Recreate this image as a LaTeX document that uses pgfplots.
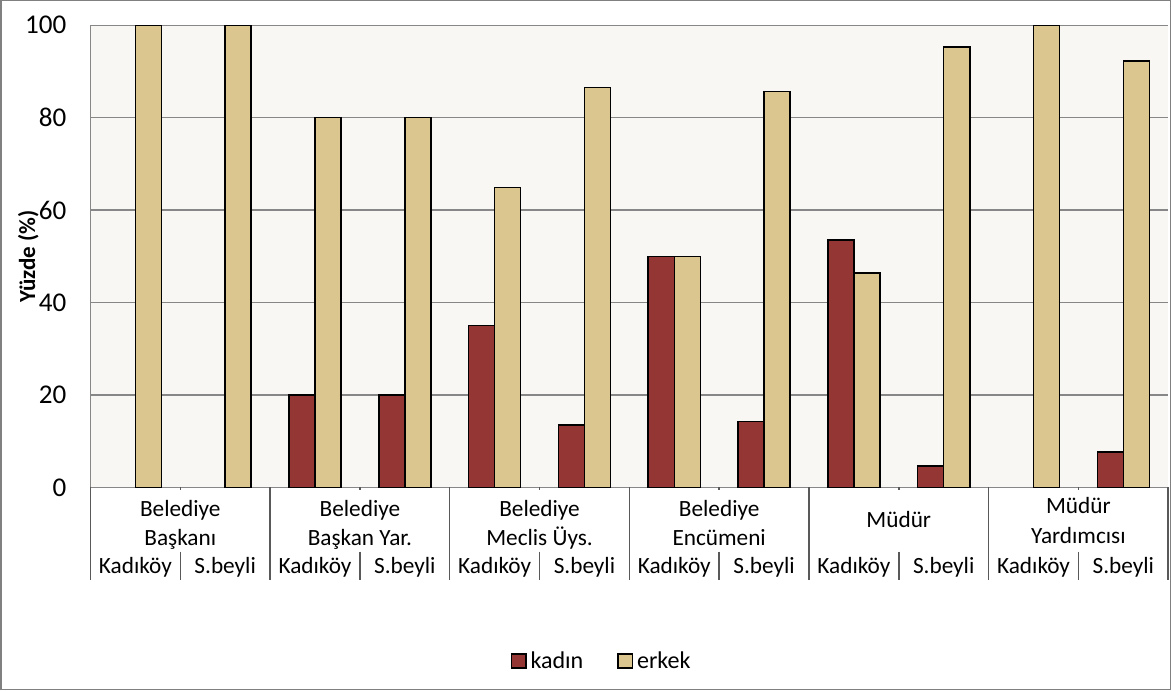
\documentclass[border=0pt]{standalone}
\usepackage{fontspec}
\setmainfont{Carlito}
\usepackage{pgfplots}
\pgfplotsset{compat=1.18}
\definecolor{kadin}{HTML}{943634}
\definecolor{erkek}{HTML}{DBC68F}
\definecolor{plotbg}{HTML}{F8F7F3}
\definecolor{gridgray}{HTML}{878787}
\definecolor{sepgray}{HTML}{595959}
\newcommand{\lbl}{\fontsize{11.6}{13}\selectfont}

\begin{document}
\begin{tikzpicture}
\begin{axis}[
  scale only axis, width=537.5pt, height=230.5pt,
  xmin=-0.5, xmax=11.5, ymin=0, ymax=100,
  clip=false,
  ybar=0pt, bar width=0.29,
  axis lines*=left,
  axis line style={gridgray, line width=0.75pt},
  axis background/.style={fill=plotbg},
  xtick={0,...,11},
  xticklabels={Kadıköy,S.beyli,Kadıköy,S.beyli,Kadıköy,S.beyli,Kadıköy,S.beyli,Kadıköy,S.beyli,Kadıköy,S.beyli},
  ytick={0,20,...,100},
  ymajorgrids,
  grid style={gridgray, line width=0.75pt},
  major tick length=0pt,
  tick label style={font=\lbl},
  /pgf/number format/assume math mode=true,
  xticklabel style={anchor=base, yshift=-43pt},
  yticklabel style={xshift=-8.5pt, font=\fontsize{13.5}{15}\selectfont},
  ylabel={Yüzde (\%)},
  every axis y label/.style={at={(rel axis cs:0,0.5)}, xshift=-31pt, rotate=90, anchor=center, font=\bfseries\fontsize{11.5}{13}\selectfont},
  legend style={at={(0.4753,-0.3774)}, anchor=center, draw=none, fill=none, legend columns=2, font=\fontsize{12}{14}\selectfont,
    /tikz/every even column/.append style={column sep=15pt}},
  legend image code/.code={\draw[#1, line width=0.75pt] (0pt,-3pt) rectangle (7pt,4pt);},
]
\addplot[fill=kadin, draw=black, line width=0.75pt] coordinates {
  (2,20) (3,20) (4,35.1) (5,13.5) (6,50) (7,14.3) (8,53.6) (9,4.7) (11,7.7)
};
\addplot[fill=erkek, draw=black, line width=0.75pt] coordinates {
  (0,100) (1,100) (2,80) (3,80) (4,64.9) (5,86.5) (6,50) (7,85.7) (8,46.4) (9,95.3) (10,100) (11,92.3)
};
\legend{kadın,erkek}

% group names
\node[anchor=base, font=\lbl, yshift=-14.5pt] at (axis cs:0.5,0) {Belediye};
\node[anchor=base, font=\lbl, yshift=-29pt] at (axis cs:0.5,0) {Başkanı};
\node[anchor=base, font=\lbl, yshift=-14.5pt] at (axis cs:2.5,0) {Belediye};
\node[anchor=base, font=\lbl, yshift=-29pt] at (axis cs:2.5,0) {Başkan Yar.};
\node[anchor=base, font=\lbl, yshift=-14.5pt] at (axis cs:4.5,0) {Belediye};
\node[anchor=base, font=\lbl, yshift=-29pt] at (axis cs:4.5,0) {Meclis Üys.};
\node[anchor=base, font=\lbl, yshift=-14.5pt] at (axis cs:6.5,0) {Belediye};
\node[anchor=base, font=\lbl, yshift=-29pt] at (axis cs:6.5,0) {Encümeni};
\node[anchor=base, font=\lbl, yshift=-20pt] at (axis cs:8.5,0) {Müdür};
\node[anchor=base, font=\lbl, yshift=-13pt] at (axis cs:10.5,0) {Müdür};
\node[anchor=base, font=\lbl, yshift=-28pt] at (axis cs:10.5,0) {Yardımcısı};

% separators
\pgfplotsinvokeforeach{-0.5,1.5,3.5,5.5,7.5,9.5,11.5}{
  \draw[sepgray, line width=0.75pt] (axis cs:#1,0) -- ++(0pt,-46pt);
}
\pgfplotsinvokeforeach{0.5,2.5,4.5,6.5,8.5,10.5}{
  \draw[sepgray, line width=0.75pt] (axis cs:#1,0) -- ++(0pt,-1.5pt);
  \draw[sepgray, line width=0.75pt] ([yshift=-32pt]axis cs:#1,0) -- ++(0pt,-14pt);
}

% outer frame
\draw[gray, line width=0.75pt] ([xshift=-44.75pt,yshift=-100.75pt]rel axis cs:0,0) rectangle ([xshift=1pt,yshift=12.25pt]rel axis cs:1,1);
\end{axis}
\end{tikzpicture}
\end{document}
